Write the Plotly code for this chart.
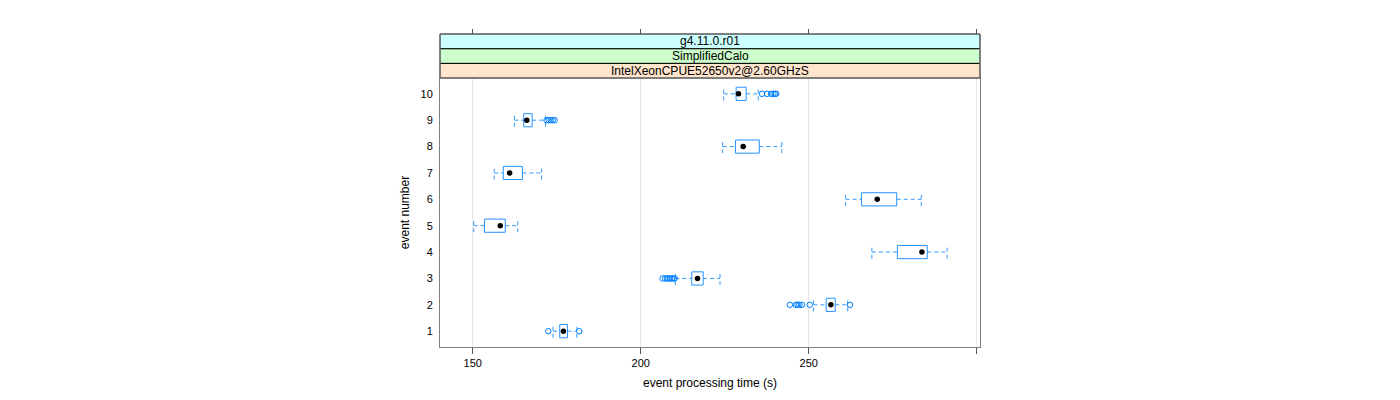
import plotly.graph_objects as go

# ---- data ----
events = [1, 2, 3, 4, 5, 6, 7, 8, 9, 10]
lower_whisker = [173.9, 251.4, 210.3, 268.8, 150.3, 261.0, 156.4, 224.4, 162.4, 224.7]
q1 = [175.9, 255.2, 215.2, 276.4, 153.5, 265.7, 159.1, 228.2, 165.2, 228.4]
median = [177.0, 256.6, 216.9, 283.7, 158.2, 270.4, 161.0, 230.5, 166.1, 229.1]
q3 = [178.2, 257.9, 218.6, 285.3, 159.7, 276.2, 164.8, 235.3, 167.7, 231.4]
upper_whisker = [181.0, 261.6, 223.6, 291.2, 163.4, 283.5, 170.5, 242.0, 171.7, 235.0]
outliers = [
    [172.5, 181.7],
    [244.4, 246.2, 246.7, 247.2, 248.0, 250.3, 262.3],
    [206.5, 207.3, 207.8, 208.3, 208.8, 209.3, 209.8, 210.1],
    [],
    [],
    [],
    [],
    [],
    [172.0, 172.6, 173.2, 173.8, 174.4],
    [236.1, 237.6, 238.8, 239.5, 240.0, 240.3],
]
strip_labels = ["IntelXeonCPUE52650v2@2.60GHzS", "SimplifiedCalo", "g4.11.0.r01"]
strip_colors = ["#ffe5cc", "#ccffcc", "#ccffff"]
x_ticks = [150, 200, 250, 300]
x_ticktext = ["150", "200", "250", ""]

BLUE = "#0080ff"
HALF = 0.25
FONT = "Liberation Sans, Arial, sans-serif"

fig = go.Figure()

# whiskers (dashed)
wx, wy = [], []
for e, lw, a, b, uw in zip(events, lower_whisker, q1, q3, upper_whisker):
    wx += [lw, a, None, b, uw, None, lw, lw, None, uw, uw, None]
    wy += [e, e, None, e, e, None, e - HALF, e + HALF, None, e - HALF, e + HALF, None]
fig.add_trace(go.Scatter(x=wx, y=wy, mode="lines",
                         line=dict(color=BLUE, width=1, dash="4px,3px"),
                         opacity=0.8, hoverinfo="skip", showlegend=False))

# boxes
bx, by = [], []
for e, a, b in zip(events, q1, q3):
    bx += [a, b, b, a, a, None]
    by += [e - HALF, e - HALF, e + HALF, e + HALF, e - HALF, None]
fig.add_trace(go.Scatter(x=bx, y=by, mode="lines",
                         line=dict(color=BLUE, width=1),
                         opacity=0.85, hoverinfo="skip", showlegend=False))

# outliers
ox, oy = [], []
for e, outs in zip(events, outliers):
    for v in outs:
        ox.append(v)
        oy.append(e)
fig.add_trace(go.Scatter(x=ox, y=oy, mode="markers",
                         marker=dict(symbol="circle-open", size=5.5, color=BLUE,
                                     line=dict(width=1, color=BLUE)),
                         showlegend=False))

# medians
fig.add_trace(go.Scatter(x=median, y=events, mode="markers",
                         marker=dict(symbol="circle", size=5.5, color="black"),
                         showlegend=False))

XR = [140.27, 300.98]
DOM_TOP = 269 / 313

fig.update_layout(
    width=1400, height=400,
    margin=dict(l=432, r=428, t=26, b=61),
    paper_bgcolor="white", plot_bgcolor="white",
    font=dict(family=FONT, color="black", size=11),
    xaxis=dict(range=XR, tickvals=x_ticks, ticktext=x_ticktext,
               showgrid=True, gridcolor="#e6e6e6", gridwidth=1,
               ticks="outside", ticklen=6, tickcolor="#555",
               showline=True, linecolor="#808080", linewidth=1, mirror=True,
               zeroline=False, tickfont=dict(size=11, color="black"),
               title=dict(text="event processing time (s)", font=dict(size=12), standoff=10)),
    xaxis2=dict(range=XR, tickvals=x_ticks, overlaying="x", side="top",
                anchor="free", position=1, showticklabels=False,
                ticks="outside", ticklen=5, tickcolor="#555",
                showgrid=False, showline=False, zeroline=False),
    yaxis=dict(range=[0.4, 10.6], domain=[0, DOM_TOP],
               tickvals=events, ticktext=[str(e) for e in events],
               ticks="outside", ticklen=4, tickcolor="rgba(0,0,0,0)",
               showgrid=False, zeroline=False,
               showline=True, linecolor="#808080", linewidth=1, mirror=True,
               tickfont=dict(size=11, color="black"),
               title=dict(text="event number", font=dict(size=12), standoff=8)),
)

# dummy trace to activate xaxis2
fig.add_trace(go.Scatter(x=[XR[0]], y=[1], xaxis="x2", mode="markers",
                         marker=dict(opacity=0), hoverinfo="skip", showlegend=False))

# strips
sh = (1 - DOM_TOP) / 3
for i, (lab, col) in enumerate(zip(strip_labels, strip_colors)):
    y0 = DOM_TOP + i * sh
    y1 = y0 + sh
    fig.add_shape(type="rect", xref="paper", yref="paper", x0=0, x1=1, y0=y0, y1=y1,
                  fillcolor=col, line=dict(color="black", width=1), layer="above")
    fig.add_annotation(xref="paper", yref="paper", x=0.5, y=(y0 + y1) / 2,
                       text=lab, showarrow=False, font=dict(size=12, color="black"),
                       xanchor="center", yanchor="middle")
# outer strip border in gray like panel
fig.add_shape(type="rect", xref="paper", yref="paper", x0=0, x1=1, y0=DOM_TOP, y1=1,
              line=dict(color="#808080", width=1), fillcolor="rgba(0,0,0,0)", layer="above")

fig.write_html("out.html")
